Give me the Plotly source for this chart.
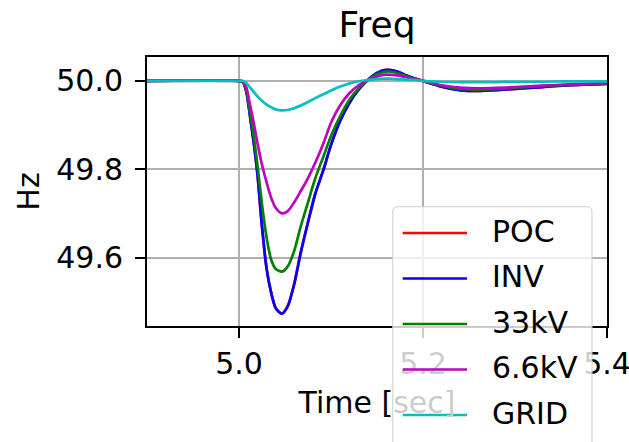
import plotly.graph_objects as go

# ---- data ----
time_s = [4.9, 5.0, 5.004, 5.008, 5.012, 5.016, 5.02, 5.025, 5.03, 5.035, 5.04, 5.0466,
          5.053, 5.06, 5.067, 5.075, 5.083, 5.092, 5.1, 5.11, 5.12, 5.13, 5.14, 5.15,
          5.16, 5.17, 5.18, 5.19, 5.2, 5.22, 5.24, 5.26, 5.28, 5.3, 5.33, 5.36, 5.4]

inv = [50.0, 50.0, 49.998, 49.975, 49.92, 49.86, 49.79, 49.67, 49.575, 49.52, 49.485, 49.473,
       49.49, 49.54, 49.61, 49.68, 49.745, 49.80, 49.855, 49.91, 49.95, 49.98, 50.002, 50.018,
       50.025, 50.022, 50.014, 50.006, 50.0, 49.987, 49.979, 49.977, 49.979, 49.982, 49.986, 49.99, 49.993]

poc = [50.0, 50.0, 49.998, 49.975, 49.92, 49.86, 49.79, 49.67, 49.575, 49.52, 49.485, 49.473,
       49.49, 49.54, 49.61, 49.68, 49.745, 49.80, 49.855, 49.91, 49.95, 49.98, 50.002, 50.018,
       50.025, 50.022, 50.014, 50.006, 50.0, 49.987, 49.979, 49.977, 49.979, 49.982, 49.986, 49.99, 49.993]

kv33 = [50.0, 50.0, 49.998, 49.978, 49.93, 49.875, 49.81, 49.72, 49.645, 49.595, 49.574, 49.568,
        49.58, 49.615, 49.67, 49.725, 49.78, 49.83, 49.875, 49.92, 49.957, 49.983, 50.002, 50.015,
        50.021, 50.019, 50.012, 50.005, 50.0, 49.989, 49.982, 49.98, 49.981, 49.984, 49.988, 49.991, 49.994]

kv66 = [50.0, 50.0, 49.999, 49.985, 49.945, 49.905, 49.86, 49.81, 49.77, 49.735, 49.712, 49.700,
        49.705, 49.725, 49.75, 49.78, 49.815, 49.86, 49.905, 49.945, 49.972, 49.99, 50.002, 50.01,
        50.014, 50.013, 50.009, 50.004, 50.0, 49.99, 49.985, 49.983, 49.984, 49.986, 49.989, 49.992, 49.995]

grid = [50.0, 50.0, 50.0, 49.995, 49.985, 49.975, 49.965, 49.955, 49.946, 49.94, 49.935, 49.933,
        49.934, 49.938, 49.944, 49.952, 49.961, 49.97, 49.978, 49.987, 49.994, 49.999, 50.002, 50.004,
        50.005, 50.004, 50.003, 50.002, 50.0, 49.998, 49.997, 49.997, 49.997, 49.998, 49.998, 49.999, 49.999]

series_names = ["POC", "INV", "33kV", "6.6kV", "GRID"]
series_values = [poc, inv, kv33, kv66, grid]
series_colors = ["#ff0000", "#0000ff", "#008000", "#bf00bf", "#00bfbf"]

x_ticks = [5.0, 5.2, 5.4]
y_ticks = [49.6, 49.8, 50.0]

FONT = "DejaVu Sans"

# plot-area geometry (pixels) used for the matplotlib-style legend box
W, H = 629, 442
ML, MR, MT, MB = 147, 22, 57, 116
PW, PH = W - ML - MR, H - MT - MB


def px_to_paper_x(px):
    return (px - ML) / PW


def py_to_paper_y(py):
    return (H - MB - py) / PH


fig = go.Figure()
for name, vals, col in zip(series_names, series_values, series_colors):
    fig.add_trace(go.Scatter(
        x=time_s, y=vals, name=name, mode="lines",
        line=dict(color=col, width=2.7, shape="spline", smoothing=0.7),
        showlegend=False,
    ))

axis_common = dict(
    showline=True, linecolor="black", linewidth=2, mirror=True,
    ticks="outside", ticklen=10, tickwidth=2, tickcolor="black",
    showgrid=True, gridcolor="#b0b0b0", gridwidth=1.7,
    zeroline=False, automargin=False, ticklabeloverflow="allow",
    tickfont=dict(family=FONT, size=30, color="black"),
)

fig.update_xaxes(range=[4.9, 5.4], tickvals=x_ticks, ticktext=[f"{v:.1f}" for v in x_ticks],
                 title=dict(text='Time [<span style="color:#cccccc">sec]</span>',
                            font=dict(family=FONT, size=30, color="black"), standoff=12),
                 **axis_common)
fig.update_yaxes(range=[49.445, 50.054], tickvals=y_ticks, ticktext=[f"{v:.1f}" for v in y_ticks],
                 ticklabelstandoff=6,
                 title=dict(text="Hz", font=dict(family=FONT, size=30, color="black"), standoff=8),
                 **axis_common)

# ---- matplotlib-style legend (box, handles, labels) ----
box_l, box_t, box_r, box_b, rad = 392.7, 206.7, 592.0, 452.0, 6.0
bx0, bx1 = px_to_paper_x(box_l), px_to_paper_x(box_r)
by0, by1 = py_to_paper_y(box_b), py_to_paper_y(box_t)
rx, ry = rad / PW, rad / PH
path = (f"M {bx0 + rx} {by1} L {bx1 - rx} {by1} Q {bx1} {by1} {bx1} {by1 - ry} "
        f"L {bx1} {by0 + ry} Q {bx1} {by0} {bx1 - rx} {by0} "
        f"L {bx0 + rx} {by0} Q {bx0} {by0} {bx0} {by0 + ry} "
        f"L {bx0} {by1 - ry} Q {bx0} {by1} {bx0 + rx} {by1} Z")
shapes = [dict(type="path", xref="paper", yref="paper", path=path, layer="above",
               fillcolor="rgba(255,255,255,0.8)", line=dict(color="rgba(204,204,204,0.8)", width=1.2))]
annotations = []
row0, row_step = 233.0, 45.5
for i, (name, col) in enumerate(zip(series_names, series_colors)):
    ry_px = row0 + i * row_step
    yp = py_to_paper_y(ry_px)
    shapes.append(dict(type="line", xref="paper", yref="paper", layer="above",
                       x0=px_to_paper_x(402.7), x1=px_to_paper_x(467.0), y0=yp, y1=yp,
                       line=dict(color=col, width=2.7)))
    annotations.append(dict(text=name, xref="paper", yref="paper", x=px_to_paper_x(490.0),
                            y=py_to_paper_y(ry_px - 2), xanchor="left", yanchor="middle",
                            showarrow=False, font=dict(family=FONT, size=30, color="black")))

fig.update_layout(
    template="none",
    width=W, height=H,
    margin=dict(l=ML, r=MR, t=MT, b=MB, autoexpand=False),
    paper_bgcolor="white", plot_bgcolor="white",
    title=dict(text="Freq", x=(ML + PW / 2) / W, xanchor="center", y=0.945, yanchor="middle",
               font=dict(family=FONT, size=36, color="black")),
    showlegend=False,
    shapes=shapes,
    annotations=annotations,
)

fig.write_html("out.html")
